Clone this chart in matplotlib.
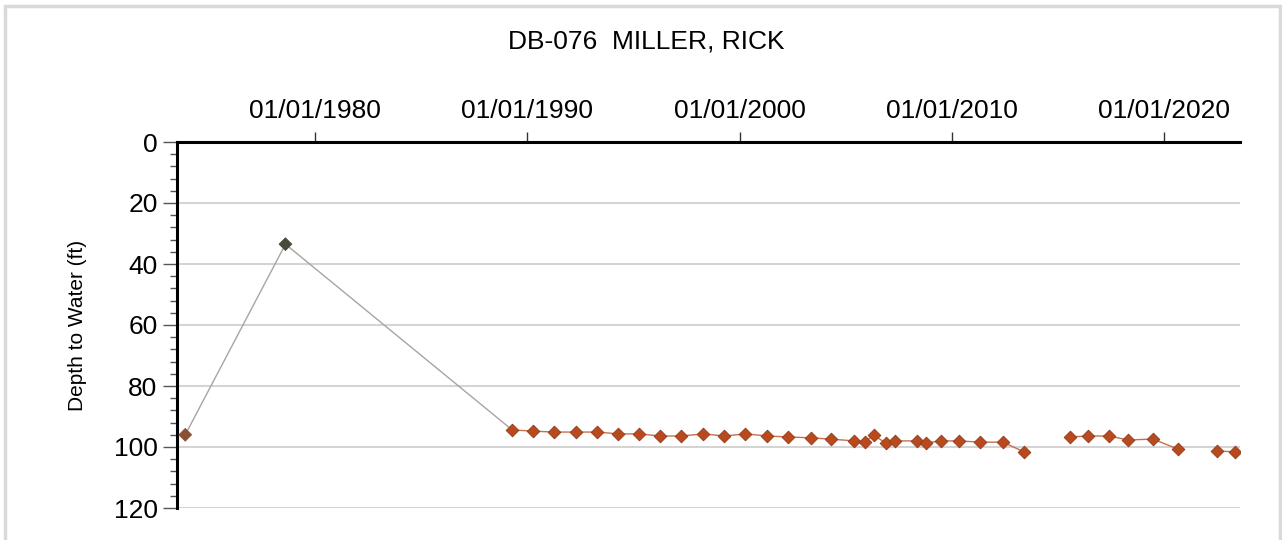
import numpy as np
import matplotlib
matplotlib.use("Agg")
import matplotlib.pyplot as plt
import matplotlib.dates as mdates
from matplotlib.patches import Rectangle
from matplotlib.ticker import MultipleLocator
from datetime import datetime

plt.rcParams['font.family'] = ['Liberation Sans', 'DejaVu Sans']

title = "DB-076  MILLER, RICK"
ylabel = "Depth to Water (ft)"

# early readings (grey line)
early_dates = ["1973-11-20", "1978-08-10"]
early_depth = [96.0, 33.5]
early_colors = ["#8a4f35", "#4a4a3c"]

# regular readings (orange)
dates = ["1989-04-15", "1990-04-12", "1991-04-08", "1992-04-20", "1993-04-18",
         "1994-04-15", "1995-04-12", "1996-04-10", "1997-04-05", "1998-04-20",
         "1999-04-15", "2000-04-12", "2001-04-25", "2002-04-22", "2003-05-08",
         "2004-04-15", "2005-05-20", "2005-11-25", "2006-04-25", "2006-11-20",
         "2007-04-22", "2008-05-08", "2008-10-08", "2009-06-25", "2010-05-01",
         "2011-04-28", "2012-05-30", "2013-05-25",
         "2015-07-25", "2016-06-03", "2017-05-30", "2018-04-20", "2019-06-25",
         "2020-08-28",
         "2022-07-01", "2023-05-08"]
depth = [94.4, 94.8, 95.1, 95.1, 95.1,
         95.7, 95.7, 96.4, 96.4, 95.7,
         96.4, 95.7, 96.4, 96.7, 97.0,
         97.4, 98.0, 98.4, 96.1, 98.7,
         98.0, 98.0, 98.7, 98.0, 98.0,
         98.4, 98.4, 101.6,
         96.7, 96.4, 96.4, 97.7, 97.4,
         100.7,
         101.3, 101.6]
# line breaks after these readings
breaks_after = ["2013-05-25", "2020-08-28"]

x_ticks = ["1980-01-01", "1990-01-01", "2000-01-01", "2010-01-01", "2020-01-01"]
y_ticks = [0, 20, 40, 60, 80, 100, 120]


def to_dt(lst):
    return [datetime.strptime(s, "%Y-%m-%d") for s in lst]


def main():
    fig = plt.figure(figsize=(12.82, 5.40), dpi=100)
    ax = fig.add_axes([177/1282, 1-508/540, (1240-177)/1282, (508-142)/540])

    ed = to_dt(early_dates)
    od = to_dt(dates)

    # grey connector from early readings to first regular one
    ax.plot(ed + [od[0]], early_depth + [depth[0]], color="#a8a4a2", lw=1.0, zorder=3)

    # orange segments, split at gaps
    start = 0
    for i, d in enumerate(dates):
        if d in breaks_after or i == len(dates) - 1:
            ax.plot(od[start:i+1], depth[start:i+1], color="#c8704c", lw=1.0, zorder=3)
            start = i + 1

    ax.scatter(ed, early_depth, marker="D", s=42, c=early_colors,
               edgecolors=early_colors, linewidths=0.6, zorder=4)
    ax.scatter(od, depth, marker="D", s=42, c="#b94a1e",
               edgecolors="#8e3a1c", linewidths=0.6, zorder=4)

    ax.set_xlim(datetime(1973, 7, 1), datetime(2023, 7, 30))
    ax.set_ylim(120, 0)

    ax.xaxis.tick_top()
    ax.set_xticks(to_dt(x_ticks))
    ax.xaxis.set_major_formatter(mdates.DateFormatter("%m/%d/%Y"))
    ax.set_yticks(y_ticks)
    ax.yaxis.set_minor_locator(MultipleLocator(4))

    ax.tick_params(axis="x", which="major", direction="out", length=7, width=1,
                   pad=7, labelsize=19, color="#333333")
    ax.tick_params(axis="y", which="major", direction="out", length=10, width=1,
                   pad=4, labelsize=19, color="#555555")
    ax.tick_params(axis="y", which="minor", direction="out", length=5, width=1,
                   color="#555555")

    for s in ["right", "bottom"]:
        ax.spines[s].set_visible(False)
    for s in ["left", "top"]:
        ax.spines[s].set_linewidth(2.2)
        ax.spines[s].set_color("black")

    ax.yaxis.grid(True, which="major", color="#d4d4d4", lw=1.5)
    ax.set_axisbelow(True)

    ax.set_ylabel(ylabel, fontsize=15, labelpad=19)
    fig.text(646/1282, 1-42/540, title, ha="center", va="center", fontsize=19)

    # light frame around the figure
    fig.patches.append(Rectangle((5/1282, -0.1), (1280-5)/1282, 1.1-6/540,
                                 transform=fig.transFigure, fill=False,
                                 edgecolor="#d9d9d9", lw=2.5))

    fig.savefig("out.png", dpi=100)


if __name__ == '__main__':
    main()
